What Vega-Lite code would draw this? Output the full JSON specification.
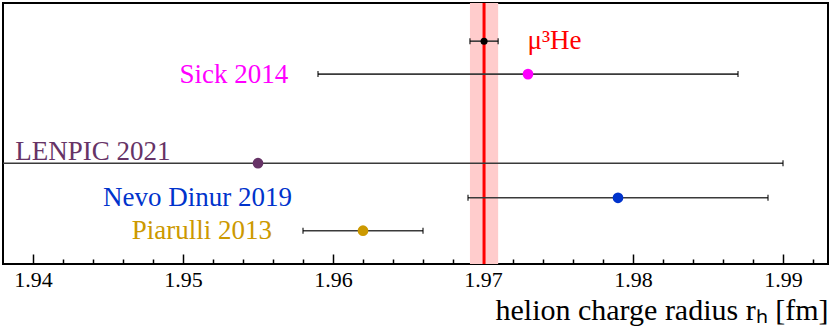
{
  "$schema": "https://vega.github.io/schema/vega-lite/v6.json",
  "width": 825,
  "height": 261,
  "autosize": {"type": "none"},
  "padding": {"left": 3, "top": 3, "right": 2, "bottom": 67},
  "background": "white",
  "config": {
    "view": {"stroke": "#000", "strokeWidth": 2},
    "font": "Liberation Serif",
    "axis": {"labelFont": "Liberation Serif", "titleFont": "Liberation Serif"}
  },
  "datasets": {
    "meas": [
      {"name": "μ³He", "value": 1.97007, "lo": 1.96913, "hi": 1.97101, "row": 6.83},
      {"name": "Sick 2014", "value": 1.973, "lo": 1.959, "hi": 1.987, "row": 5.82},
      {"name": "LENPIC 2021", "value": 1.955, "lo": 1.92, "hi": 1.99, "row": 3.09},
      {"name": "Nevo Dinur 2019", "value": 1.979, "lo": 1.969, "hi": 1.989, "row": 2.03},
      {"name": "Piarulli 2013", "value": 1.962, "lo": 1.958, "hi": 1.966, "row": 1.02}
    ],
    "labels": [
      {"name": "μ³He", "lx": 1.97297, "ly": 6.83, "side": "left"},
      {"name": "Sick 2014", "lx": 1.95702, "ly": 5.78, "side": "right"},
      {"name": "LENPIC 2021", "lx": 1.93882, "ly": 3.43, "side": "left"},
      {"name": "Nevo Dinur 2019", "lx": 1.95727, "ly": 2.03, "side": "right"},
      {"name": "Piarulli 2013", "lx": 1.95593, "ly": 1.02, "side": "right"}
    ]
  },
  "resolve": {"scale": {"color": "independent"}, "axis": {"x": "independent"}},
  "layer": [
    {
      "data": {"name": "meas"},
      "transform": [{"filter": "datum.name === 'μ³He'"}],
      "mark": {"type": "rect", "fill": "#ffcccc"},
      "encoding": {
        "x": {
          "field": "lo", "type": "quantitative",
          "scale": {"domain": [1.938, 1.993], "nice": false, "zero": false},
          "axis": {
            "orient": "bottom",
            "values": [1.94, 1.95, 1.96, 1.97, 1.98, 1.99],
            "format": ".2f",
            "tickSize": -10,
            "tickColor": "#000",
            "tickWidth": 1.5,
            "domain": false,
            "grid": false,
            "labelFont": "Liberation Serif",
            "labelFontSize": 22,
            "labelColor": "#000",
            "labelPadding": 15,
            "labelFlush": false,
            "labelOverlap": false,
            "title": "helion charge radius rₕ [fm]",
            "titleFont": "Liberation Serif",
            "titleFontSize": 30,
            "titleFontWeight": "normal",
            "titleColor": "#000",
            "titleAnchor": "end",
            "titleAlign": "right",
            "titlePadding": 5
          }
        },
        "x2": {"field": "hi"}
      }
    },
    {
      "data": {"name": "meas"},
      "transform": [{"filter": "datum.name === 'μ³He'"}],
      "mark": {"type": "rule", "color": "#ff0000", "strokeWidth": 3},
      "encoding": {
        "x": {
          "field": "value", "type": "quantitative",
          "axis": {
            "orient": "bottom",
            "values": [1.942, 1.944, 1.946, 1.948, 1.952, 1.954, 1.956, 1.958, 1.962, 1.964, 1.966, 1.968, 1.972, 1.974, 1.976, 1.978, 1.982, 1.984, 1.986, 1.988, 1.992],
            "tickSize": -5,
            "tickColor": "#000",
            "tickWidth": 1.5,
            "domain": false,
            "grid": false,
            "labels": false,
            "title": null
          }
        }
      }
    },
    {
      "data": {"name": "meas"},
      "mark": {"type": "rule", "color": "#3a3a3a", "strokeWidth": 1.6, "clip": true},
      "encoding": {
        "x": {"field": "lo", "type": "quantitative", "axis": null},
        "x2": {"field": "hi"},
        "y": {"field": "row", "type": "quantitative", "scale": {"domain": [0, 8], "nice": false, "zero": false}, "axis": null}
      }
    },
    {
      "data": {"name": "meas"},
      "mark": {"type": "tick", "orient": "vertical", "color": "#000", "size": 6, "thickness": 1.5, "clip": true},
      "encoding": {
        "x": {"field": "lo", "type": "quantitative", "axis": null},
        "y": {"field": "row", "type": "quantitative", "axis": null}
      }
    },
    {
      "data": {"name": "meas"},
      "mark": {"type": "tick", "orient": "vertical", "color": "#000", "size": 6, "thickness": 1.5, "clip": true},
      "encoding": {
        "x": {"field": "hi", "type": "quantitative", "axis": null},
        "y": {"field": "row", "type": "quantitative", "axis": null}
      }
    },
    {
      "data": {"name": "meas"},
      "mark": {"type": "circle", "opacity": 1},
      "encoding": {
        "x": {"field": "value", "type": "quantitative", "axis": null},
        "y": {"field": "row", "type": "quantitative", "axis": null},
        "size": {"condition": {"test": "datum.name === 'μ³He'", "value": 50}, "value": 115},
        "color": {
          "field": "name", "type": "nominal", "legend": null,
          "scale": {
            "domain": ["μ³He", "Sick 2014", "LENPIC 2021", "Nevo Dinur 2019", "Piarulli 2013"],
            "range": ["#000000", "#ff00ff", "#663366", "#0033cc", "#cc9900"]
          }
        }
      }
    },
    {
      "data": {"name": "labels"},
      "transform": [{"filter": "datum.side === 'right'"}],
      "mark": {"type": "text", "align": "right", "baseline": "middle", "font": "Liberation Serif", "fontSize": 27},
      "encoding": {
        "x": {"field": "lx", "type": "quantitative", "axis": null},
        "y": {"field": "ly", "type": "quantitative", "axis": null},
        "text": {"field": "name"},
        "color": {
          "field": "name", "type": "nominal", "legend": null,
          "scale": {
            "domain": ["μ³He", "Sick 2014", "LENPIC 2021", "Nevo Dinur 2019", "Piarulli 2013"],
            "range": ["#ff0000", "#ff00ff", "#663366", "#0033cc", "#cc9900"]
          }
        }
      }
    },
    {
      "data": {"name": "labels"},
      "transform": [{"filter": "datum.side === 'left'"}],
      "mark": {"type": "text", "align": "left", "baseline": "middle", "font": "Liberation Serif", "fontSize": 27},
      "encoding": {
        "x": {"field": "lx", "type": "quantitative", "axis": null},
        "y": {"field": "ly", "type": "quantitative", "axis": null},
        "text": {"field": "name"},
        "color": {
          "field": "name", "type": "nominal", "legend": null,
          "scale": {
            "domain": ["μ³He", "Sick 2014", "LENPIC 2021", "Nevo Dinur 2019", "Piarulli 2013"],
            "range": ["#ff0000", "#ff00ff", "#663366", "#0033cc", "#cc9900"]
          }
        }
      }
    }
  ]
}
